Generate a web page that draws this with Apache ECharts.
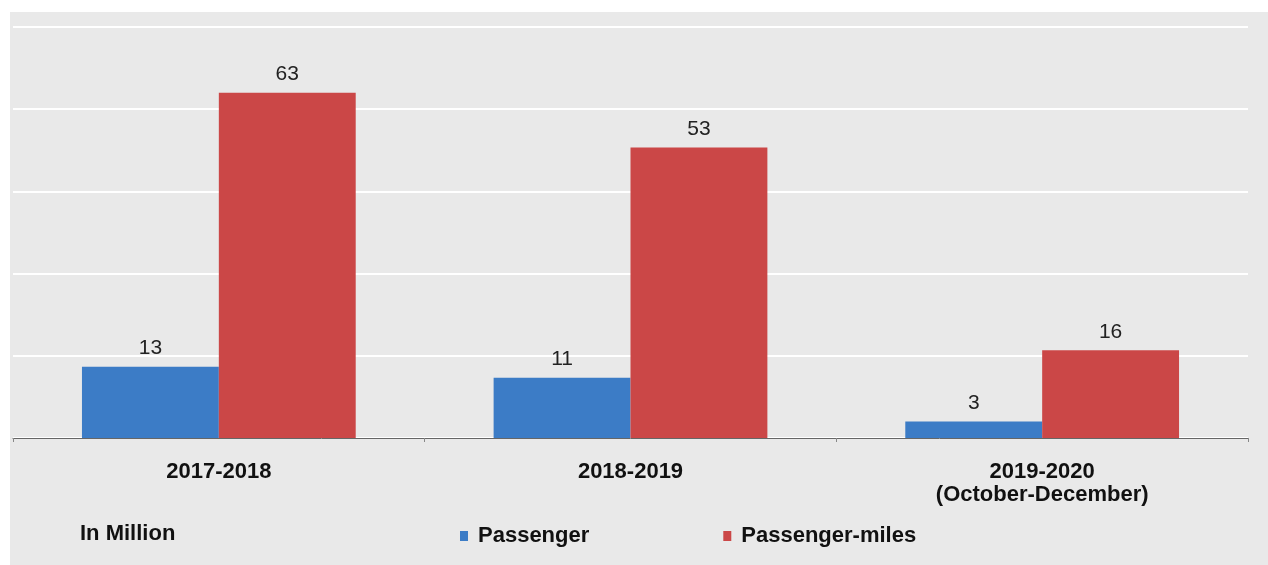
<!DOCTYPE html>
<html>
<head>
<meta charset="utf-8">
<script src="https://cdn.jsdelivr.net/npm/echarts@6/dist/echarts.min.js"></script>
<style>
html,body{margin:0;padding:0;background:#fff;}
#c{width:1268px;height:565px;}
</style>
</head>
<body>
<div id="c"></div>
<script>
const categories = ['2017-2018', '2018-2019', '2019-2020\n(October-December)'];
const passenger = [13, 11, 3];
const passengerMiles = [63, 53, 16];
const seriesNames = ['Passenger', 'Passenger-miles'];
const unitLabel = 'In Million';

const chart = echarts.init(document.getElementById('c'), null, {renderer: 'canvas'});
const font = 'Arial, "Liberation Sans", sans-serif';
const labelCfg = {
  show: true, position: 'top', distance: 8,
  color: '#222', fontSize: 21, fontFamily: font, fontWeight: 'normal'
};
chart.setOption({
  backgroundColor: '#ffffff',
  animation: false,
  graphic: [
    {type: 'rect', z: -10, shape: {x: 10, y: 12, width: 1258, height: 553}, style: {fill: '#e9e9e9'}},
    {type: 'text', left: 80, top: 523, style: {text: unitLabel, font: 'bold 22px ' + font, fill: '#111'}}
  ],
  grid: {left: 13, right: 20, top: 27, bottom: 127, containLabel: false},
  legend: {
    data: seriesNames,
    left: 455, top: 520,
    icon: 'rect', itemWidth: 8, itemHeight: 10, itemGap: 134,
    textStyle: {fontSize: 22, fontWeight: 'bold', fontFamily: font, color: '#111', padding: [0, 0, 0, 5]}
  },
  xAxis: {
    type: 'category', data: categories,
    axisLine: {show: true, lineStyle: {color: '#666', width: 1}},
    axisTick: {show: true, length: 4, lineStyle: {color: '#888'}},
    axisLabel: {fontSize: 22, fontWeight: 'bold', fontFamily: font, color: '#111', margin: 22, lineHeight: 23, interval: 0}
  },
  yAxis: {
    type: 'value', min: 0, max: 75, interval: 15,
    axisLabel: {show: false}, axisLine: {show: false}, axisTick: {show: false},
    splitLine: {show: true, lineStyle: {color: '#ffffff', width: 2}}
  },
  series: [
    {name: seriesNames[0], type: 'bar', data: passenger, barGap: '0%', barCategoryGap: '33.5%',
     itemStyle: {color: '#3c7cc6'}, label: labelCfg},
    {name: seriesNames[1], type: 'bar', data: passengerMiles,
     itemStyle: {color: '#cb4747'}, label: labelCfg}
  ]
});
</script>
</body>
</html>
